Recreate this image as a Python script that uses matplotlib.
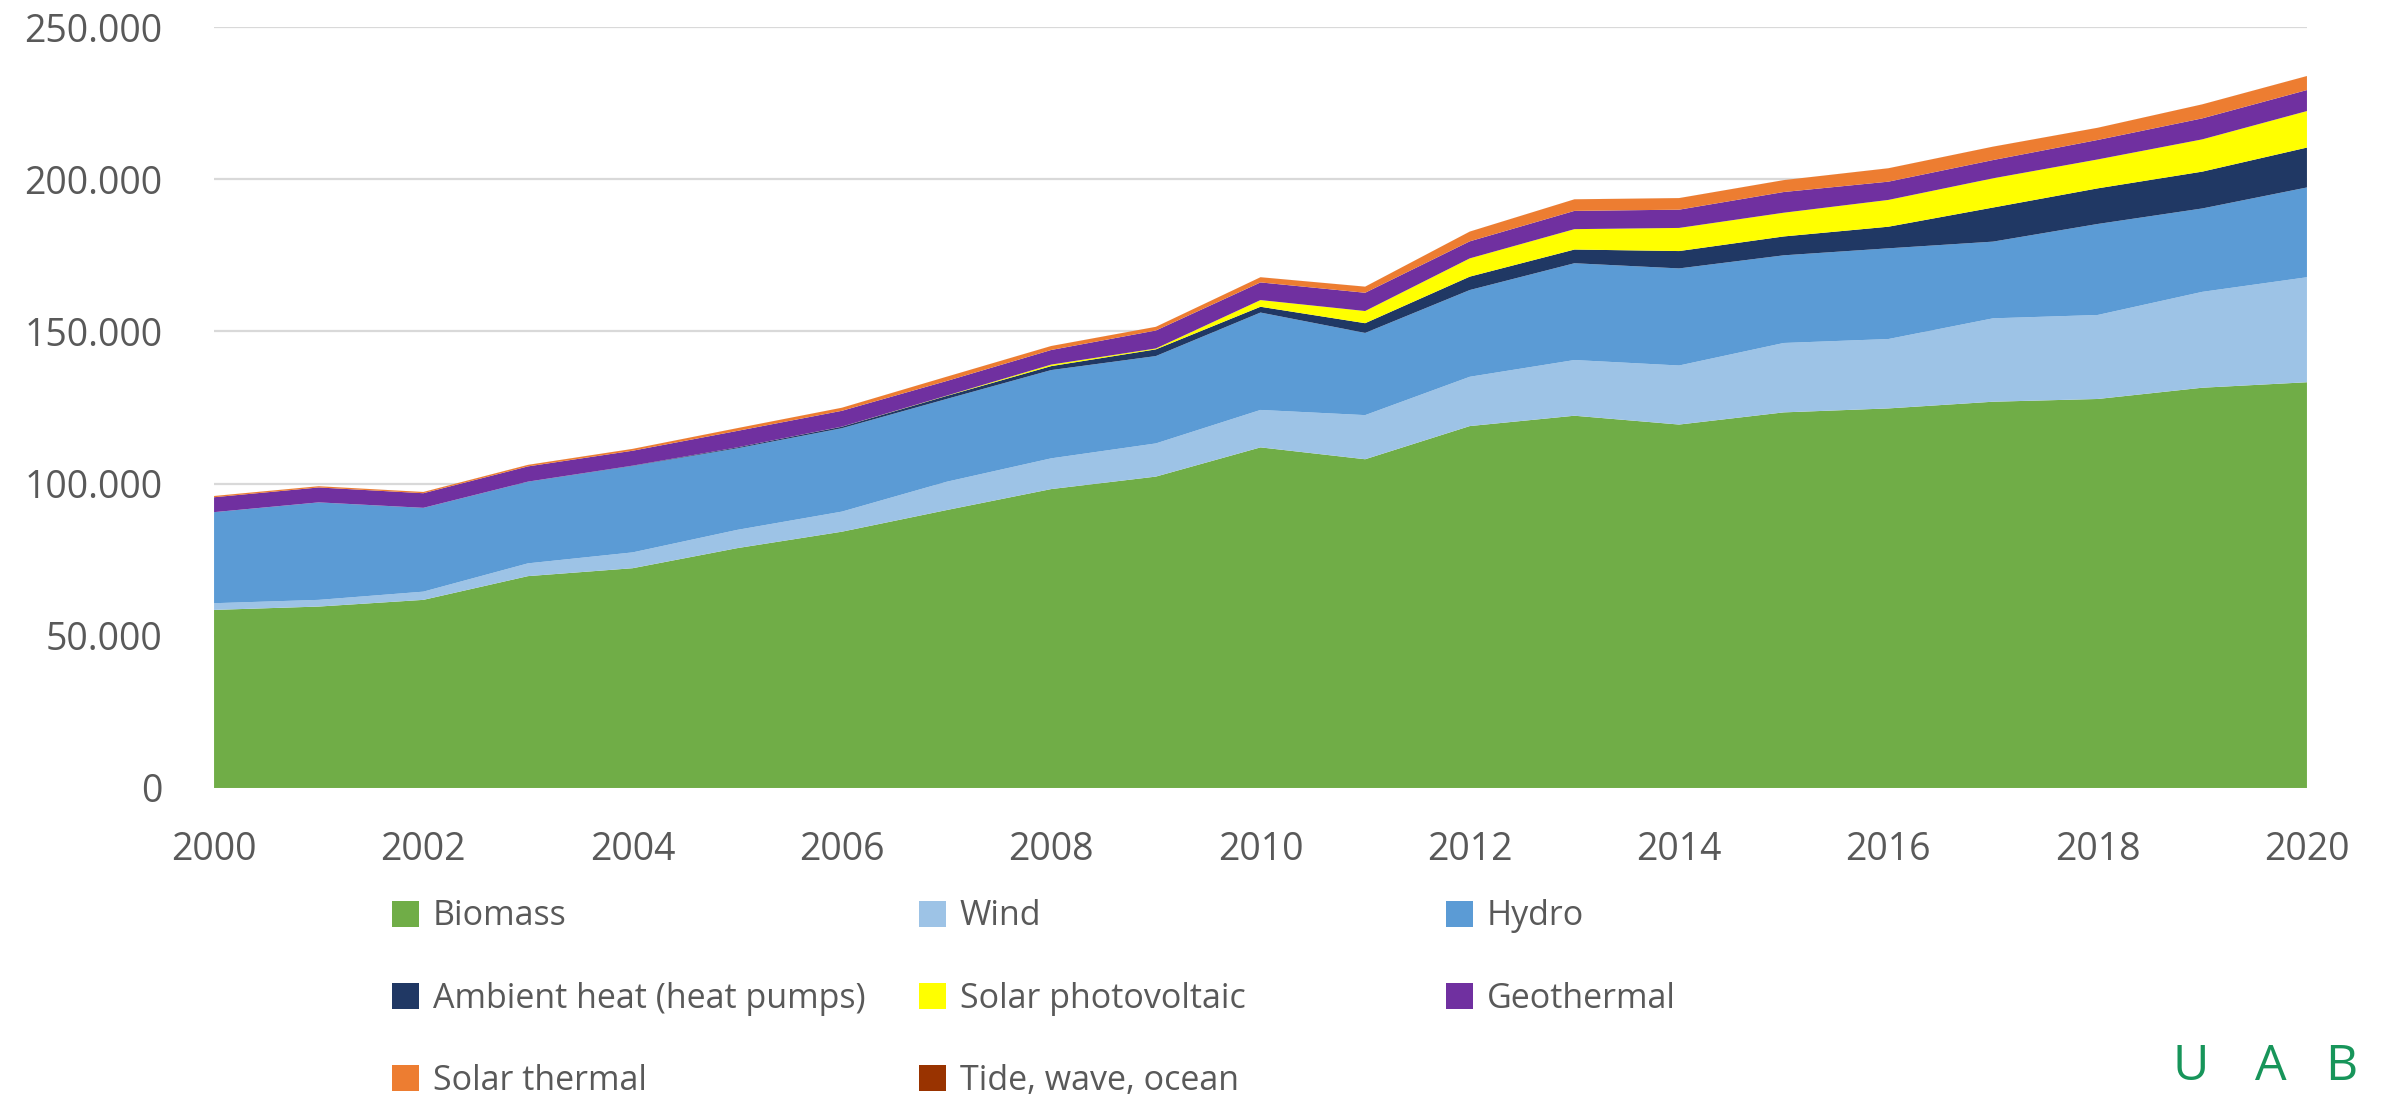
import numpy as np
import matplotlib
matplotlib.use("Agg")
from matplotlib import pyplot as plt
from matplotlib.patches import Patch
from matplotlib.ticker import FuncFormatter

# values in thousands
years = list(range(2000, 2021))
biomass = [58.5, 59.6, 61.8, 69.6, 72.2, 78.8, 84.2, 91.3, 98.2, 102.3, 111.9,
           108.0, 118.9, 122.3, 119.4, 123.4, 124.7, 126.9, 127.8, 131.5, 133.3]
wind = [2.2, 2.2, 2.7, 4.2, 5.2, 6.0, 6.6, 9.3, 10.1, 10.9, 12.3,
        14.5, 16.2, 18.3, 19.4, 22.8, 22.8, 27.4, 27.6, 31.5, 34.5]
hydro = [29.9, 32.0, 27.5, 26.8, 28.4, 26.8, 27.4, 27.2, 29.0, 28.7, 32.0,
         27.0, 28.5, 31.8, 31.9, 28.8, 29.8, 25.2, 29.9, 27.4, 29.5]
ambient_heat = [0.02, 0.03, 0.04, 0.05, 0.1, 0.3, 0.5, 1.0, 1.3, 2.2, 1.9,
                3.2, 4.4, 4.5, 5.7, 6.2, 7.1, 11.2, 11.7, 12.1, 13.1]
solar_pv = [0.0, 0.0, 0.0, 0.0, 0.0, 0.01, 0.02, 0.1, 0.5, 0.3, 2.2,
            4.0, 6.0, 6.7, 7.6, 7.8, 8.8, 9.6, 9.5, 10.6, 12.0]
geothermal = [4.9, 4.9, 4.8, 5.0, 4.9, 5.4, 5.2, 4.8, 4.8, 5.9, 5.8,
              6.0, 5.6, 6.0, 6.0, 6.8, 6.0, 6.0, 6.4, 6.9, 6.9]
solar_thermal = [0.4, 0.4, 0.4, 0.5, 0.6, 0.9, 1.0, 1.4, 1.3, 1.2, 1.7,
                 2.0, 3.2, 3.8, 3.8, 3.9, 4.4, 4.4, 4.0, 4.6, 4.6]
tide = [0.01] * 21

labels = ['Biomass', 'Wind', 'Hydro', 'Ambient heat (heat pumps)', 'Solar photovoltaic',
          'Geothermal', 'Solar thermal', 'Tide, wave, ocean']
colors = ['#70ad47', '#9dc3e6', '#5b9bd5', '#203864', '#ffff00', '#7030a0', '#ed7d31', '#993300']
series = [biomass, wind, hydro, ambient_heat, solar_pv, geothermal, solar_thermal, tide]

plt.rcParams['font.family'] = ['Open Sans', 'DejaVu Sans']
txt_col = '#595959'

fig = plt.figure(figsize=(23.81, 10.95), dpi=100)
ax = fig.add_axes([0.0899, 0.2804, 0.8790, 0.6949])

ax.stackplot(years, *series, colors=colors, linewidth=0, zorder=2)

ax.set_xlim(2000, 2020)
ax.set_ylim(0, 250)
ax.set_xticks(range(2000, 2021, 2))
ax.set_yticks(range(0, 251, 50))
ax.yaxis.set_major_formatter(FuncFormatter(lambda v, p: f"{int(round(v * 1000)):,}".replace(",", ".")))
ax.grid(axis='y', color='#d9d9d9', linewidth=1.6, zorder=0)
ax.set_axisbelow(True)
for s in ax.spines.values():
    s.set_visible(False)
ax.tick_params(axis='both', length=0, labelsize=27, colors=txt_col)
ax.tick_params(axis='y', pad=37)
ax.tick_params(axis='x', pad=31)

# legend: three fixed-width columns like the original
cols_x = [0.1646, 0.386, 0.6073]
col_items = [[0, 3, 6], [1, 4, 7], [2, 5]]
for cx, items in zip(cols_x, col_items):
    handles = [Patch(facecolor=colors[i], edgecolor='none') for i in items]
    fig.legend(handles, [labels[i] for i in items], loc='upper left',
               bbox_to_anchor=(cx, 0.1786), frameon=False, fontsize=24.5,
               handlelength=0.8, handleheight=0.8, handletextpad=0.4,
               labelspacing=1.42, borderpad=0, borderaxespad=0, labelcolor=txt_col)

# logo letters at the bottom right corner
for ch, lx in zip(['U', 'A', 'B'], [0.9202, 0.9538, 0.9835]):
    fig.text(lx, 0.014, ch, color='#17955a', fontsize=36, ha='center', va='baseline')

fig.savefig('out.png', dpi=100)
